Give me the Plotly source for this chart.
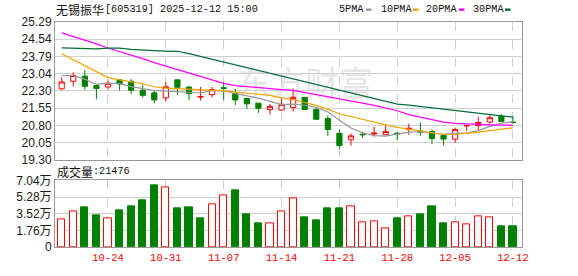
import plotly.graph_objects as go

dates = ["10-20","10-21","10-22","10-23","10-24","10-27","10-28","10-29","10-30","10-31",
         "11-03","11-04","11-05","11-06","11-07","11-10","11-11","11-12","11-13","11-14",
         "11-17","11-18","11-19","11-20","11-21","11-24","11-25","11-26","11-27","11-28",
         "12-01","12-02","12-03","12-04","12-05","12-08","12-09","12-10","12-11","12-12"]

open_ = [22.39,22.72,22.94,22.53,22.47,22.78,22.72,22.33,22.22,22.00,
         22.78,22.47,22.03,22.14,22.44,22.19,21.97,21.77,21.49,21.47,
         21.58,22.02,21.49,21.10,20.46,20.18,20.42,20.43,20.40,20.47,
         20.63,20.56,20.54,20.37,20.21,20.78,20.80,20.95,21.20,20.95]
high = [22.90,23.11,23.20,22.55,22.75,22.80,22.81,22.58,22.30,22.69,
        22.80,22.49,22.47,22.47,22.69,22.39,21.98,21.78,21.74,21.97,
        22.41,22.04,21.58,21.24,20.63,20.46,20.54,20.74,20.80,20.49,
        20.88,20.93,20.63,20.40,20.71,20.82,21.18,21.24,21.30,21.19]
low = [22.35,22.50,22.36,21.94,22.36,22.33,22.16,22.02,21.77,21.86,
       22.14,21.91,21.88,22.02,21.91,21.69,21.52,21.35,21.27,21.44,
       21.41,21.47,21.06,20.35,19.79,19.93,20.26,20.32,20.40,20.15,
       20.40,20.35,19.99,19.93,20.04,20.57,20.57,20.88,20.96,20.87]
close = [22.69,22.97,22.50,22.41,22.63,22.60,22.33,22.11,21.91,22.48,
         22.46,22.19,22.06,22.36,22.41,21.91,21.74,21.55,21.63,21.72,
         22.02,21.49,21.07,20.63,19.93,20.35,20.40,20.47,20.54,20.44,
         20.68,20.52,20.24,20.21,20.63,20.80,20.93,21.14,20.98,20.93]

ma5 = [22.97,22.97,22.81,22.58,22.64,22.62,22.49,22.42,22.32,22.29,
       22.26,22.23,22.22,22.31,22.30,22.19,22.10,21.99,21.85,21.71,
       21.73,21.68,21.59,21.39,21.03,20.69,20.48,20.36,20.34,20.44,
       20.51,20.53,20.48,20.42,20.46,20.48,20.58,20.76,20.90,20.96]
ma10 = [23.91,23.66,23.38,23.13,22.88,22.78,22.69,22.61,22.48,22.42,
        22.40,22.38,22.34,22.32,22.30,22.25,22.21,22.17,22.11,22.00,
        21.92,21.80,21.67,21.50,21.31,21.19,21.06,20.95,20.83,20.72,
        20.64,20.54,20.47,20.41,20.41,20.45,20.51,20.58,20.64,20.70]
ma20 = [24.82,24.67,24.52,24.34,24.16,24.01,23.87,23.70,23.53,23.38,
        23.24,23.09,22.94,22.78,22.63,22.53,22.48,22.44,22.40,22.36,
        22.32,22.23,22.13,22.06,21.98,21.88,21.77,21.67,21.56,21.44,
        21.27,21.16,21.06,20.95,20.89,20.86,20.84,20.83,20.82,20.81]
ma30 = [24.17,24.15,24.12,24.12,24.16,24.16,24.10,24.09,24.05,24.03,
        24.02,23.92,23.80,23.68,23.56,23.43,23.31,23.19,23.07,22.95,
        22.83,22.71,22.58,22.46,22.35,22.22,22.10,21.98,21.86,21.73,
        21.68,21.62,21.56,21.50,21.44,21.39,21.33,21.27,21.21,21.16]

volume = [29590,37400,42200,33000,30600,38800,43200,49000,65600,63300,
          40800,42200,30600,44900,54100,59500,34700,25500,24500,37400,
          51000,31600,28600,40800,40800,42500,26200,27200,20100,30600,
          32300,34700,42900,25500,26200,23500,32300,31300,21400,21476]

price_ticks = ["19.30","20.05","20.80","21.55","22.30","23.04","23.79","24.54","25.29"]
vol_tickvals = [0,17600,35200,52800,70400]
vol_ticktext = ["0","1.76万","3.52万","5.28万","7.04万"]
date_ticks = ["10-24","10-31","11-07","11-14","11-21","11-28","12-05","12-12"]

title_name = "无锡振华"
title_rest = "[605319] 2025-12-12 15:00"
vol_label = "成交量"
vol_last = ":21476"
ma_names = ["5PMA","10PMA","20PMA","30PMA"]

RED = "#ff0000"
GREEN = "#008000"
MA_COLORS = ["#999999", "#f5a300", "#ff00ff", "#006f3a"]

# plot area pixel geometry
L, R, T, B = 55, 522, 22, 255
W, H = 578, 276
def px(x):
    return (x - L) / (R - L)
def py(y):
    return (B - y) / (B - T)

fig = go.Figure()

fig.add_trace(go.Candlestick(
    x=dates, open=open_, high=high, low=low, close=close,
    increasing=dict(line=dict(color=RED, width=1), fillcolor="white"),
    decreasing=dict(line=dict(color=GREEN, width=1), fillcolor=GREEN),
    whiskerwidth=0, xaxis="x", yaxis="y", hoverinfo="skip",
))

for name, vals, col in zip(ma_names, [ma5, ma10, ma20, ma30], MA_COLORS):
    fig.add_trace(go.Scatter(x=dates, y=vals, mode="lines", name=name,
                             line=dict(color=col, width=1.2),
                             xaxis="x", yaxis="y", hoverinfo="skip"))

up = [True] + [close[i] >= close[i - 1] for i in range(1, len(close))]
fig.add_trace(go.Bar(
    x=dates, y=volume, width=0.62,
    marker=dict(color=["white" if u else GREEN for u in up],
                line=dict(color=[RED if u else GREEN for u in up], width=1)),
    xaxis="x2", yaxis="y2", hoverinfo="skip",
))

axis_common = dict(showline=True, mirror=True, linecolor="#9a9a9a", linewidth=1,
                   zeroline=False)
xr = [-0.58, 39.78]
fig.update_layout(
    width=W, height=H,
    margin=dict(l=L, r=W - R, t=T, b=H - B),
    paper_bgcolor="white", plot_bgcolor="white",
    showlegend=False, boxgap=0.36, bargap=0,
    xaxis=dict(type="category", range=xr, domain=[0, 1], anchor="y",
               tickvals=date_ticks, showticklabels=False, ticks="",
               showgrid=True, gridcolor="#cfcfcf", griddash="dash", gridwidth=1,
               rangeslider=dict(visible=False), **axis_common),
    yaxis=dict(domain=[py(165), 1], range=[19.30, 25.29],
               tickvals=[float(t) for t in price_ticks], ticktext=price_ticks,
               tickfont=dict(family="Liberation Sans, Arial", size=12, color="#1a1a1a"),
               showgrid=True, gridcolor="#d0d0d0", gridwidth=1, ticks="", **axis_common),
    xaxis2=dict(type="category", range=xr, domain=[0, 1], anchor="y2", matches="x",
                tickvals=date_ticks, ticktext=date_ticks,
                tickfont=dict(family="Liberation Mono, monospace", size=10.5, color=RED),
                showgrid=True, gridcolor="#cfcfcf", griddash="dash", gridwidth=1,
                ticks="", rangeslider=dict(visible=False), **axis_common),
    yaxis2=dict(domain=[0, py(186)], range=[0, 70400], anchor="x2",
                tickvals=vol_tickvals, ticktext=vol_ticktext,
                tickfont=dict(family="Liberation Sans, Arial, Noto Sans CJK SC", size=12, color="#1a1a1a"),
                showgrid=True, gridcolor="#d0d0d0", gridwidth=1, ticks="", **axis_common),
)

annotations = []
def add_text(text, x, y, family, size, color="#111111"):
    annotations.append(dict(text=text, x=px(x), y=py(y), xref="paper", yref="paper",
                            xanchor="left", yanchor="middle", showarrow=False,
                            borderpad=0, font=dict(family=family, size=size, color=color)))

add_text(title_name, 55, 9.5, "Noto Sans CJK SC", 12)
add_text(title_rest, 104, 9.5, "Liberation Mono, monospace", 10.2)
add_text(vol_label, 56, 177, "Noto Sans CJK SC", 12)
add_text(vol_last, 92, 177, "Liberation Mono, monospace", 10.2)

legend_text_x = [338, 380, 425, 471.5]
legend_mark_x = [366, 413, 459, 505]
shapes = []
for name, tx, mx, col in zip(ma_names, legend_text_x, legend_mark_x, MA_COLORS):
    add_text(name, tx, 9.5, "Liberation Mono, monospace", 10.2)
    shapes.append(dict(type="rect", xref="paper", yref="paper",
                       x0=px(mx), x1=px(mx + 5.5), y0=py(10.5), y1=py(8),
                       line=dict(width=0), fillcolor=col))

# watermark
shapes.append(dict(type="rect", xref="paper", yref="paper", layer="below",
                   x0=px(228), x1=px(382), y0=py(106), y1=py(72),
                   line=dict(width=0), fillcolor="rgba(0,0,0,0)",
                   label=dict(text="东方财富", textposition="middle center",
                              font=dict(family="Noto Sans CJK SC", size=34, color="#e6e6e6"))))

fig.update_layout(annotations=annotations, shapes=shapes)

fig.write_html("out.html")
